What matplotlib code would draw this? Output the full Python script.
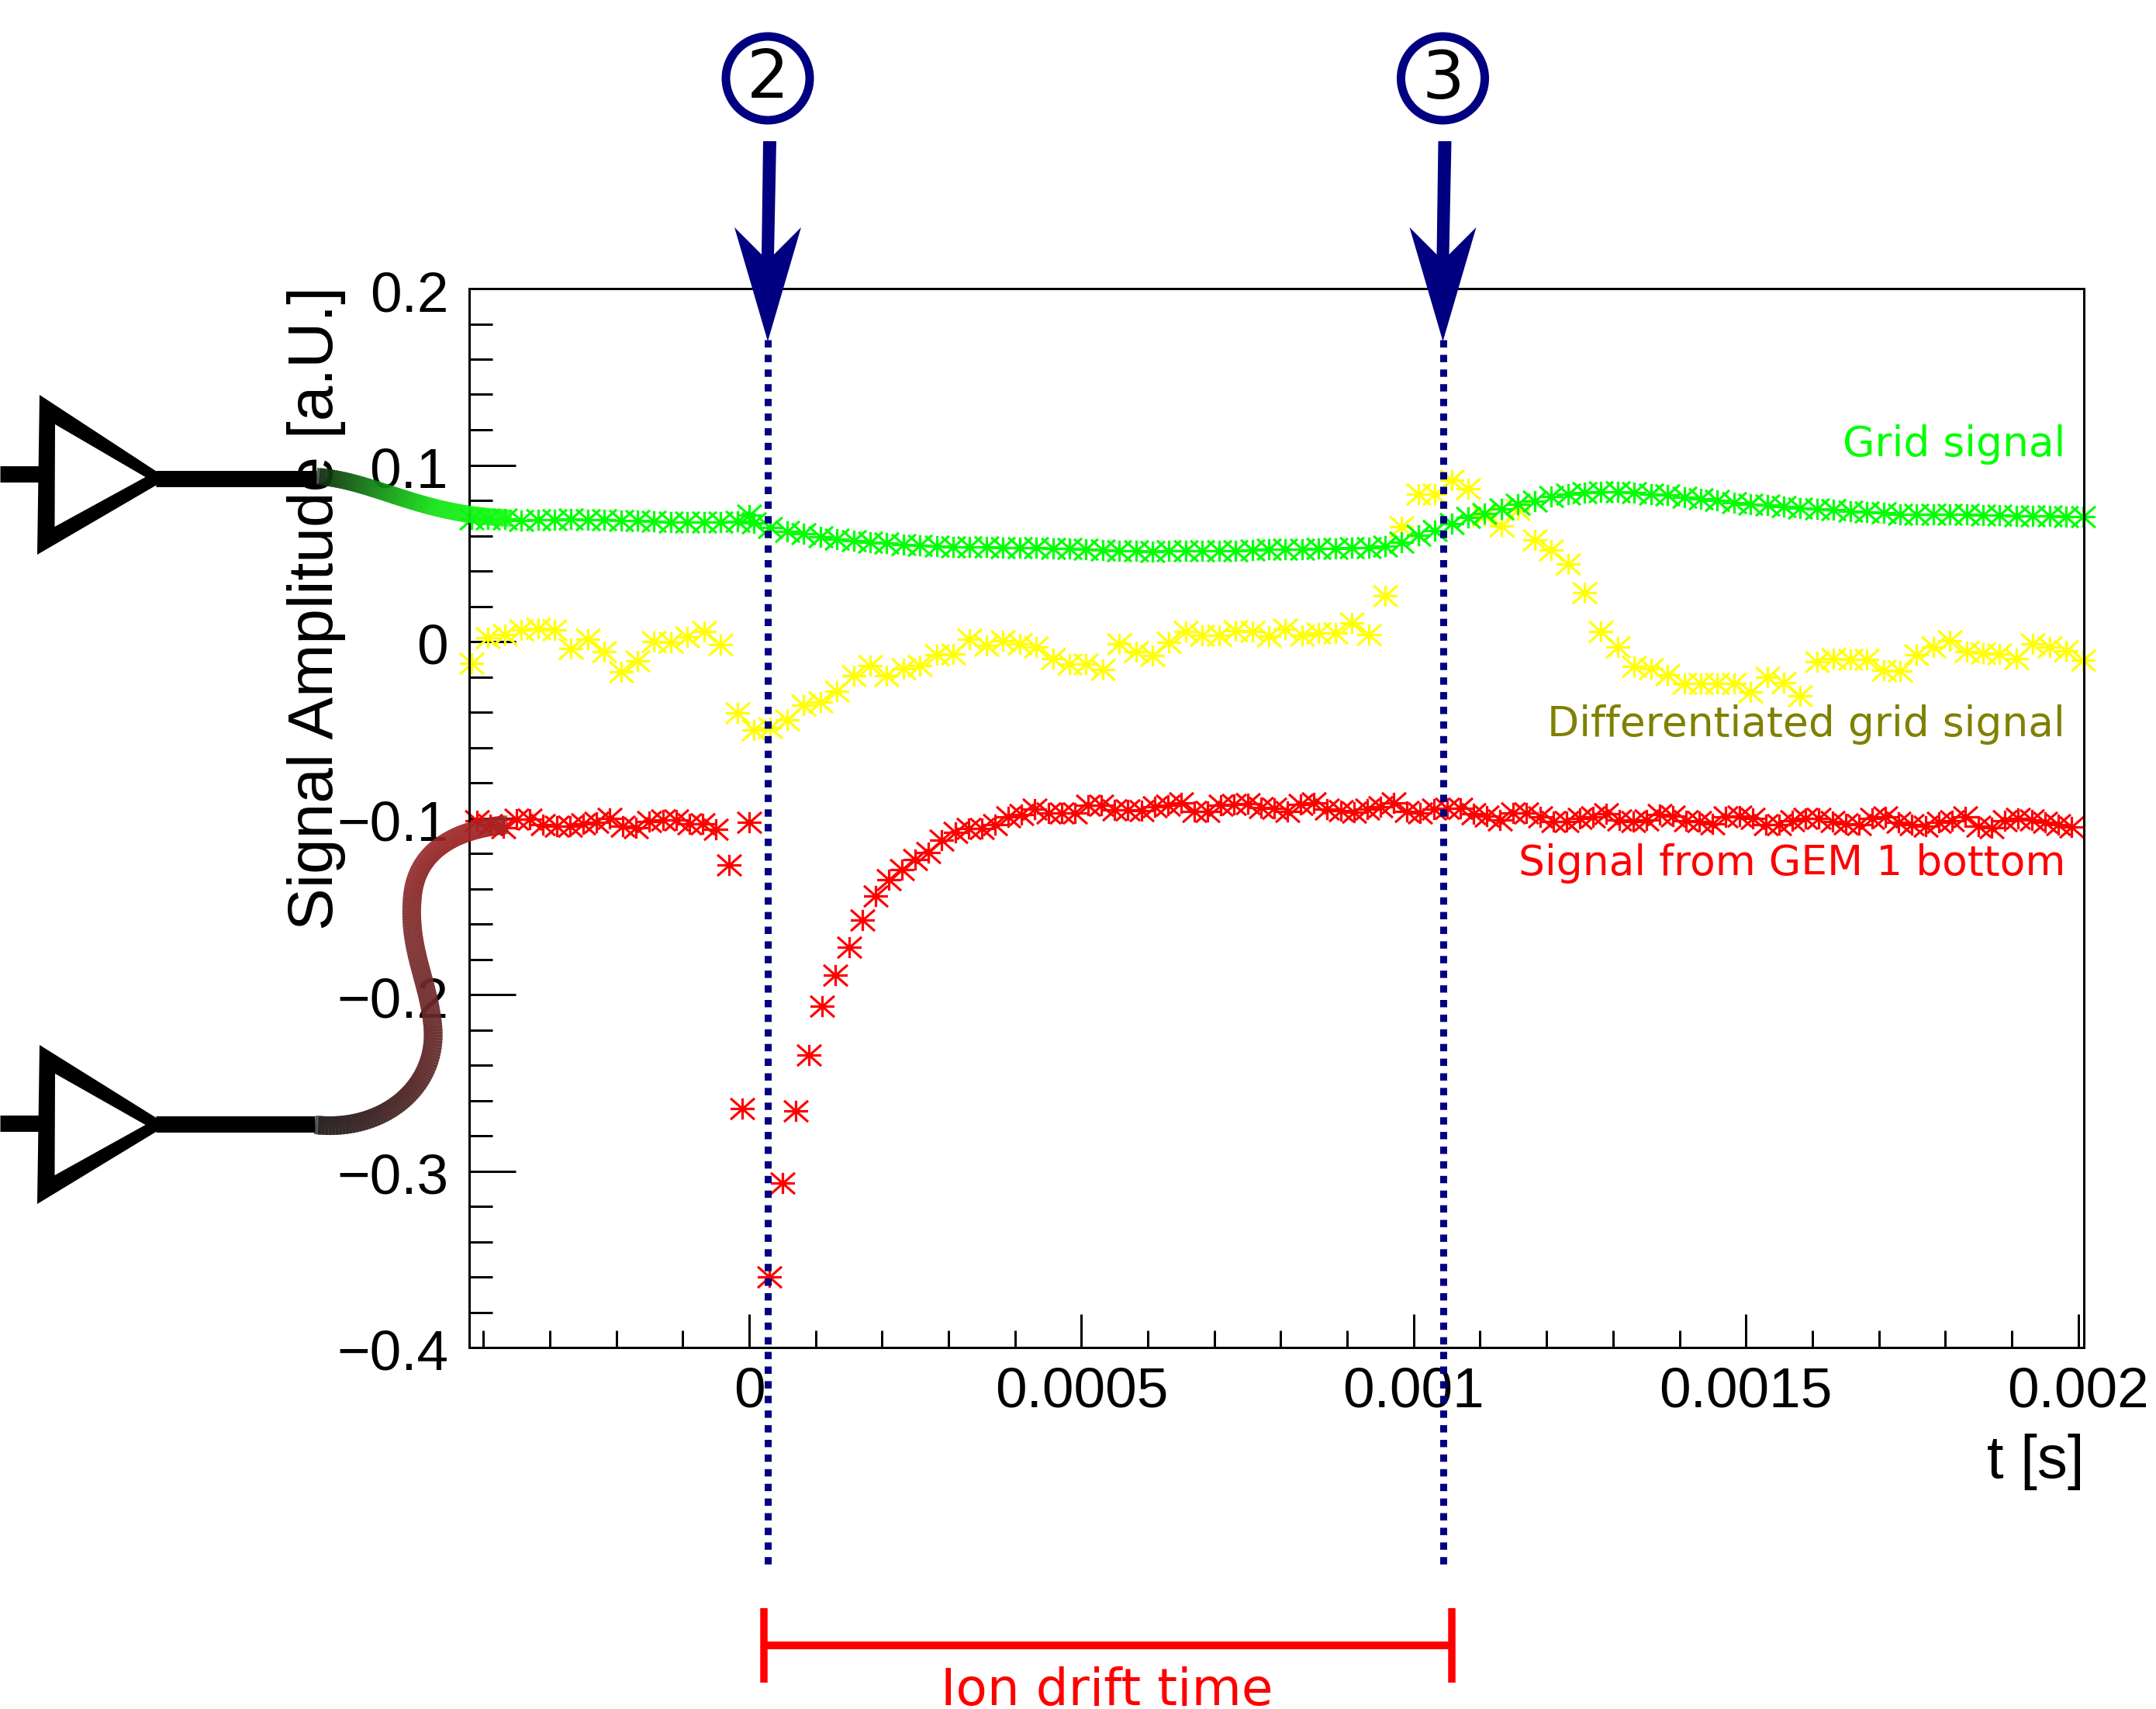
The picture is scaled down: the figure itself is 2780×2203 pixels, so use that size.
import numpy as np
import matplotlib
matplotlib.use('Agg')
import matplotlib.pyplot as plt
from matplotlib.path import Path
from matplotlib.patches import Polygon, Circle
from matplotlib.collections import LineCollection
from matplotlib.ticker import MultipleLocator
from matplotlib.transforms import ScaledTranslation

# all times in microseconds
t_green = [-418, -393, -368, -343, -318, -293, -268, -243, -218, -193, -168, -143, -118, -93, -68, -43, -18, 0, 7, 32,
           57, 82, 107, 132, 157, 182, 207, 232, 257, 282, 307, 332, 357, 382, 407, 432, 457, 482, 507, 532,
           557, 582, 607, 632, 657, 682, 707, 732, 757, 782, 807, 832, 857, 882, 907, 932, 957, 982, 1007, 1032,
           1057, 1082, 1107, 1132, 1157, 1182, 1207, 1232, 1257, 1282, 1307, 1332, 1357, 1382, 1407, 1432, 1457, 1482, 1507, 1532,
           1557, 1582, 1607, 1632, 1657, 1682, 1707, 1732, 1757, 1782, 1807, 1832, 1857, 1882, 1907, 1932, 1957, 1982, 2007]
green = [0.0695, 0.0695, 0.0695, 0.0687, 0.0691, 0.0691, 0.0695, 0.0691, 0.0691, 0.0687, 0.0687, 0.0682, 0.0678, 0.0678, 0.0678, 0.0678, 0.0681, 0.0715, 0.0674, 0.0648,
         0.0624, 0.0611, 0.0593, 0.0580, 0.0572, 0.0564, 0.0558, 0.0550, 0.0546, 0.0541, 0.0538, 0.0538, 0.0538, 0.0533, 0.0533, 0.0533, 0.0527, 0.0527, 0.0522, 0.0518,
         0.0514, 0.0514, 0.0511, 0.0514, 0.0514, 0.0514, 0.0514, 0.0514, 0.0518, 0.0522, 0.0525, 0.0525, 0.0527, 0.0527, 0.0533, 0.0533, 0.0541, 0.0561, 0.0601, 0.0629,
         0.0668, 0.0703, 0.0726, 0.0750, 0.0778, 0.0797, 0.0820, 0.0836, 0.0844, 0.0849, 0.0847, 0.0844, 0.0836, 0.0829, 0.0817, 0.0810, 0.0800, 0.0789, 0.0777, 0.0774,
         0.0763, 0.0755, 0.0750, 0.0747, 0.0739, 0.0734, 0.0730, 0.0723, 0.0723, 0.0722, 0.0722, 0.0719, 0.0716, 0.0716, 0.0711, 0.0711, 0.0711, 0.0708, 0.0708]

t_yellow = [-418, -393, -368, -343, -318, -293, -268, -243, -218, -193, -168, -143, -118, -93, -68, -43, -18, 7, 32, 57,
            82, 107, 132, 157, 182, 207, 232, 257, 282, 307, 332, 357, 382, 407, 432, 457, 482, 507, 532, 557,
            582, 607, 632, 657, 682, 707, 732, 757, 782, 807, 832, 857, 882, 907, 932, 957, 982, 1007, 1032, 1057,
            1082, 1107, 1132, 1157, 1182, 1207, 1232, 1257, 1282, 1307, 1332, 1357, 1382, 1407, 1432, 1457, 1482, 1507, 1532, 1557,
            1582, 1607, 1632, 1657, 1682, 1707, 1732, 1757, 1782, 1807, 1832, 1857, 1882, 1907, 1932, 1957, 1982, 2007]
yellow = [-0.0121, 0.0020, 0.0040, 0.0067, 0.0075, 0.0067, -0.0038, 0.0012, -0.0059, -0.0173, -0.0110, 0.0, -0.0004, 0.0028, 0.0056, -0.0019, -0.0404, -0.0503, -0.0490, -0.0443,
          -0.0362, -0.0343, -0.0283, -0.0195, -0.0137, -0.0195, -0.0153, -0.0137, -0.0074, -0.0071, 0.0015, -0.0023, 0.0004, -0.0012, -0.0030, -0.0095, -0.0126, -0.0126, -0.0158, -0.0012,
          -0.0059, -0.0079, -0.0004, 0.0056, 0.0036, 0.0036, 0.0062, 0.0056, 0.0031, 0.0072, 0.0036, 0.0048, 0.0048, 0.0106, 0.0039, 0.0258, 0.0652, 0.0836, 0.0836, 0.0915,
          0.0864, 0.0710, 0.0655, 0.0747, 0.0574, 0.0517, 0.0439, 0.0279, 0.0059, -0.0030, -0.0142, -0.0153, -0.0189, -0.0239, -0.0236, -0.0236, -0.0236, -0.0286, -0.0203, -0.0235,
          -0.0307, -0.0114, -0.0095, -0.0101, -0.0101, -0.0161, -0.0165, -0.0074, -0.0032, 0.0004, -0.0059, -0.0066, -0.0071, -0.0098, -0.0015, -0.0030, -0.0051, -0.0106]

t_red = [-410, -390, -370, -350, -330, -310, -290, -270, -250, -230, -210, -190, -170, -150, -130, -110, -90, -70, -50, -30,
         -10, 0, 30, 50, 70, 90, 110, 130, 150, 170, 190, 210, 230, 250, 270, 290, 310, 330, 350, 370,
         390, 410, 430, 450, 470, 490, 510, 530, 550, 570, 590, 610, 630, 650, 670, 690, 710, 730, 750, 770,
         790, 810, 830, 850, 870, 890, 910, 930, 950, 970, 990, 1010, 1030, 1050, 1070, 1090, 1110, 1130, 1150, 1170,
         1190, 1210, 1230, 1250, 1270, 1290, 1310, 1330, 1350, 1370, 1390, 1410, 1430, 1450, 1470, 1490, 1510, 1530, 1550, 1570,
         1590, 1610, 1630, 1650, 1670, 1690, 1710, 1730, 1750, 1770, 1790, 1810, 1830, 1850, 1870, 1890, 1910, 1930, 1950, 1970, 1990]
red = [-0.1017, -0.1039, -0.1054, -0.1007, -0.1007, -0.1039, -0.1046, -0.1046, -0.1031, -0.1024, -0.1002, -0.1046, -0.1054, -0.1021, -0.1013, -0.1013, -0.1031, -0.1031, -0.1064, -0.1266,
       -0.2644, -0.1022, -0.3600, -0.3068, -0.2659, -0.2342, -0.2066, -0.1889, -0.1730, -0.1579, -0.1443, -0.1349, -0.1294, -0.1234, -0.1197, -0.1127, -0.1083, -0.1061, -0.1061, -0.1039,
       -0.0992, -0.0980, -0.0951, -0.0973, -0.0973, -0.0973, -0.0929, -0.0926, -0.0955, -0.0955, -0.0958, -0.0936, -0.0929, -0.0914, -0.0963, -0.0963, -0.0929, -0.0922, -0.0919, -0.0939,
       -0.0944, -0.0963, -0.0922, -0.0914, -0.0948, -0.0958, -0.0966, -0.0951, -0.0936, -0.0914, -0.0963, -0.0973, -0.0951, -0.0944, -0.0944, -0.0977, -0.0988, -0.1010, -0.0973, -0.0973,
       -0.0992, -0.1021, -0.1021, -0.1002, -0.0995, -0.0977, -0.1010, -0.1021, -0.1013, -0.0980, -0.0988, -0.1017, -0.1021, -0.1031, -0.0995, -0.0988, -0.1002, -0.1039, -0.1039, -0.1017,
       -0.1002, -0.1002, -0.1021, -0.1031, -0.1039, -0.1002, -0.0992, -0.1024, -0.1039, -0.1046, -0.1024, -0.1017, -0.0995, -0.1046, -0.1054, -0.1017, -0.1002, -0.1010, -0.1024, -0.1039, -0.1051]

x_ticks = [0, 0.0005, 0.001, 0.0015, 0.002]
x_labels = ['0', '0.0005', '0.001', '0.0015', '0.002']
y_ticks = [-0.4, -0.3, -0.2, -0.1, 0, 0.1, 0.2]
y_labels = ['\u22120.4', '\u22120.3', '\u22120.2', '\u22120.1', '0', '0.1', '0.2']

W, H = 2780, 2203
PT = 0.72  # pixels to points at dpi 100
NAVY = '#000080'

plt.rcParams['font.family'] = ['Liberation Sans', 'DejaVu Sans']

fig = plt.figure(figsize=(W / 100, H / 100), dpi=100)
left, right, top, bottom = 605, 2686.5, 372, 1737
ax = fig.add_axes([left / W, 1 - bottom / H, (right - left) / W, (bottom - top) / H])
ax.set_xlim((left - 966) / 856800, (right - 966) / 856800)
ax.set_ylim(-0.4, 0.2)

# 8 spoke star like the ROOT marker
star = Path([(-1, 0), (1, 0), (0, -0.88), (0, 0.88), (-1, -0.88), (1, 0.88), (-1, 0.88), (1, -0.88)],
            [Path.MOVETO, Path.LINETO] * 4)
for t, v, c in [(t_red, red, '#ff0000'), (t_yellow, yellow, '#ffff00'), (t_green, green, '#00ff00')]:
    ax.plot(np.array(t) * 1e-6, v, ls='none', marker=star, ms=31 * PT, mfc='none', mec=c, mew=3.2 * PT, clip_on=False)

ax.set_xticks(x_ticks, x_labels)
ax.set_yticks(y_ticks, y_labels)
ax.xaxis.set_minor_locator(MultipleLocator(0.0001))
ax.yaxis.set_minor_locator(MultipleLocator(0.02))
ax.tick_params(axis='x', which='major', direction='in', length=43 * PT, width=3 * PT, labelsize=73 * PT, pad=25 * PT)
ax.tick_params(axis='x', which='minor', direction='in', length=22 * PT, width=3 * PT)
ax.tick_params(axis='y', which='major', direction='in', length=60 * PT, width=3 * PT, labelsize=73 * PT, pad=27 * PT)
ax.tick_params(axis='y', which='minor', direction='in', length=30 * PT, width=3 * PT)
for s in ax.spines.values():
    s.set_linewidth(3 * PT)
for lbl in ax.get_yticklabels():
    lbl.set_transform(lbl.get_transform() + ScaledTranslation(0, -3 / 100, fig.dpi_scale_trans))

ax.set_xlabel('t [s]', fontsize=78 * PT, loc='right')
ax.xaxis.set_label_coords(1.0005, -(1905 - bottom) / (bottom - top), transform=ax.transAxes)
ax.xaxis.label.set_verticalalignment('baseline')
ax.set_ylabel('Signal Amplitude [a.U.]', fontsize=82 * PT, loc='top')
ax.yaxis.label.set_verticalalignment('baseline')
ax.yaxis.set_label_coords((429 - left) / (right - left), 1.002)

label_x = (2663 - left) / (right - left)
ax.text(label_x, 1 - (588 - top) / (bottom - top), 'Grid signal', transform=ax.transAxes, ha='right', va='baseline',
        color='#00ff00', fontsize=53.5 * PT, family='DejaVu Sans')
ax.text(label_x, 1 - (949 - top) / (bottom - top), 'Differentiated grid signal', transform=ax.transAxes, ha='right', va='baseline',
        color='#808000', fontsize=53.5 * PT, family='DejaVu Sans')
ax.text(label_x, 1 - (1128 - top) / (bottom - top), 'Signal from GEM 1 bottom', transform=ax.transAxes, ha='right', va='baseline',
        color='#ff0000', fontsize=53.5 * PT, family='DejaVu Sans')

# overlay in pixels for the drawn annotations
ov = fig.add_axes([0, 0, 1, 1])
ov.set_xlim(0, W)
ov.set_ylim(H, 0)
ov.axis('off')
ov.patch.set_alpha(0)


def bezier_chain(p, n=60):
    # p = start, then c1, c2, end for each piece
    p = np.array(p, float)
    out = [p[0]]
    for i in range(0, len(p) - 1, 3):
        for u in np.linspace(0, 1, n + 1)[1:]:
            out.append((1 - u) ** 3 * p[i] + 3 * (1 - u) ** 2 * u * p[i + 1] + 3 * (1 - u) * u ** 2 * p[i + 2] + u ** 3 * p[i + 3])
    return np.array(out)


def wire(points, stops, colors, width):
    xy = bezier_chain(points)
    # each piece overlaps the next one so no seams show
    segs = np.stack([xy[:-2], xy[2:]], axis=1)
    u = np.linspace(0, 1, len(segs))
    rgb = np.column_stack([np.interp(u, stops, [c[i] / 255 for c in colors]) for i in range(3)])
    ov.add_collection(LineCollection(segs, colors=rgb, linewidths=width * PT, capstyle='butt', alpha=0.75))


for xs, ys in [([0, 52], [611, 611]), ([201, 408], [617, 617]), ([0, 52], [1448, 1448]), ([201, 406], [1449, 1449])]:
    ov.plot(xs, ys, color='black', lw=21 * PT, solid_capstyle='butt')
for outer, inner in [([(51, 509), (48, 715), (216, 617)], [(71, 547), (70.5, 679), (187.5, 615)]),
                     ([(51, 1347), (48, 1552), (216, 1450)], [(71, 1384), (70.5, 1515), (187.5, 1450)])]:
    ov.add_patch(Polygon(outer, closed=True, fc='black', ec='none'))
    ov.add_patch(Polygon(inner, closed=True, fc='white', ec='none'))

wire([(408, 614), (485, 620), (540, 664), (660, 668)],
     [0, 0.7, 1], [(15, 40, 15), (20, 230, 20), (20, 255, 20)], 22)
wire([(406, 1450), (495, 1460), (566, 1400), (558, 1322),
      (552, 1262), (525, 1222), (532, 1154),
      (538, 1095), (590, 1068), (655, 1063)],
     [0, 0.25, 0.55, 1], [(30, 25, 25), (95, 40, 40), (125, 45, 45), (170, 35, 35)], 24)

for x, num in [(990, '2'), (1860.5, '3')]:
    ov.plot([x, x], [438, 2020], color=NAVY, lw=9 * PT, ls=(0, (1.05, 1.05)), dash_capstyle='butt')
    ov.add_patch(Circle((x, 101), 54, fc='white', ec=NAVY, lw=11 * PT))
    ov.text(x, 103, num, ha='center', va='center', fontsize=86 * PT, color='black', family='DejaVu Sans')
    ov.add_patch(Polygon([(x - 6, 182), (x + 11, 182), (x + 8, 330), (x - 8, 330)], closed=True, fc=NAVY, ec='none'))
    ov.add_patch(Polygon([(x, 440), (x - 43, 293), (x - 8, 328), (x + 8, 328), (x + 43, 293)], closed=True, fc=NAVY, ec='none'))

# drift time bracket
ov.plot([985, 1872], [2121, 2121], color='#ff0000', lw=10 * PT, solid_capstyle='butt')
for x in [985, 1872]:
    ov.plot([x, x], [2073, 2169], color='#ff0000', lw=9.5 * PT, solid_capstyle='butt')
ov.text(1427, 2198, 'Ion drift time', ha='center', va='baseline', color='#ff0000', fontsize=66 * PT, family='DejaVu Sans')

fig.savefig('out.png', dpi=100)
